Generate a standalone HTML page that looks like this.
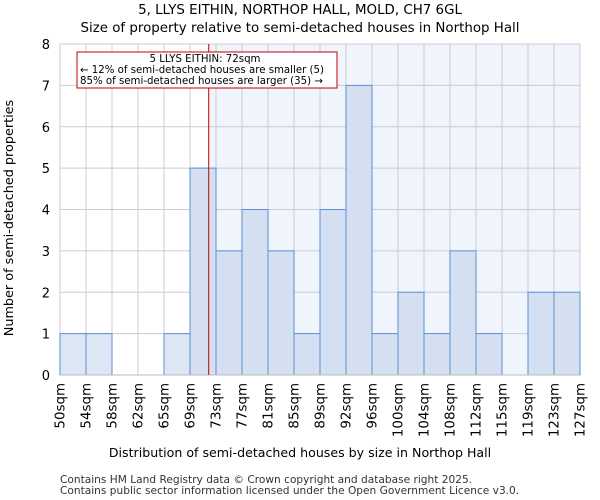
<!DOCTYPE html>
<html><head><meta charset="utf-8"><style>
body{margin:0;background:#fff;}
svg{display:block;font-family:"DejaVu Sans","Liberation Sans",sans-serif;}
</style></head><body>
<svg id="chart" width="600" height="500">
<text x="300" y="14" text-anchor="middle" font-size="13.4">5, LLYS EITHIN, NORTHOP HALL, MOLD, CH7 6GL</text>
<text x="300" y="32" text-anchor="middle" font-size="13.4">Size of property relative to semi-detached houses in Northop Hall</text>
<g id="plot"></g>
<text x="300" y="457" text-anchor="middle" font-size="12.6">Distribution of semi-detached houses by size in Northop Hall</text>
<text transform="translate(13,218) rotate(-90)" text-anchor="middle" font-size="12.8">Number of semi-detached properties</text>
<text x="60" y="483" font-size="10.6" fill="#333">Contains HM Land Registry data © Crown copyright and database right 2025.</text>
<text x="60" y="494" font-size="10.6" fill="#333">Contains public sector information licensed under the Open Government Licence v3.0.</text>
</svg>
<script>
const binLabels=["50sqm","54sqm","58sqm","62sqm","65sqm","69sqm","73sqm","77sqm","81sqm","85sqm","89sqm","92sqm","96sqm","100sqm","104sqm","108sqm","112sqm","115sqm","119sqm","123sqm","127sqm"];
const counts=[1,1,0,0,1,5,3,4,3,1,4,7,1,2,1,3,1,0,2,2];
const yTicks=[0,1,2,3,4,5,6,7,8];
const propertyBin=5.72;
const NS="http://www.w3.org/2000/svg";
const X0=60,X1=580,Y0=375,Y1=44,YMAX=8;
const nb=counts.length;
const bw=(X1-X0)/nb;
const xs=i=>X0+i*bw;
const ys=v=>Y0-(v/YMAX)*(Y0-Y1);
const g=document.getElementById('plot');
function mk(t,a){const e=document.createElementNS(NS,t);for(const k in a)e.setAttribute(k,a[k]);g.appendChild(e);return e;}
const px=xs(propertyBin);
let bg=mk('rect',{x:px,y:Y1,width:X1-px,height:Y0-Y1,fill:'#f0f4fc'});


for(let i=0;i<binLabels.length;i++){
  let l=mk('line',{x1:xs(i),x2:xs(i),y1:Y1,y2:Y0,stroke:'#cccccc','stroke-width':1});
  
  
  let t=mk('text',{transform:`translate(${xs(i)+4.5},${Y0+8}) rotate(-90)`,'text-anchor':'end','font-size':13.4});
  t.textContent=binLabels[i];
  
  
}
yTicks.forEach(v=>{
  let l=mk('line',{x1:X0,x2:X1,y1:ys(v),y2:ys(v),stroke:'#cccccc','stroke-width':1});
  
  
  let t=mk('text',{x:50,y:ys(v)+5,'text-anchor':'end','font-size':13});
  t.textContent=v;
  
  
});
counts.forEach((c,i)=>{
  if(c<=0)return;
  let r=mk('rect',{x:xs(i),y:ys(c),width:bw,height:Y0-ys(c),fill:(i+1)<=propertyBin?'#dce6f4':'#d4e0f2',stroke:'#5b8fd6','stroke-width':1});
  
  
});
let ax=mk('line',{x1:X0,x2:X1,y1:Y0,y2:Y0,stroke:'#bbbbbb','stroke-width':1});


let pl=mk('line',{x1:px,x2:px,y1:Y1,y2:Y0,stroke:'#c00000','stroke-width':1});


let box=mk('rect',{x:77,y:52,width:260,height:36,fill:'#fff',stroke:'#c00000','stroke-width':1});


const ann=["5 LLYS EITHIN: 72sqm","← 12% of semi-detached houses are smaller (5)","85% of semi-detached houses are larger (35) →"];
ann.forEach((s,i)=>{
  let t=mk('text',{x:i==0?205:80,y:62+i*11,'font-size':10.2,'text-anchor':i==0?'middle':'start'});
  t.textContent=s;
  
  
});
</script>
</body></html>
